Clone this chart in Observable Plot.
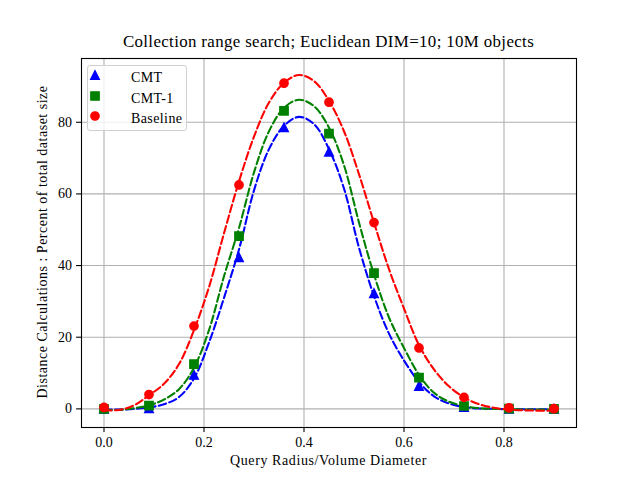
<!DOCTYPE html>
<html>
<head>
<meta charset="utf-8">
<script src="https://cdn.jsdelivr.net/npm/d3@7"></script>
<script src="https://cdn.jsdelivr.net/npm/@observablehq/plot@0.6"></script>
<style>
  html, body { margin: 0; padding: 0; background: #fff; }
  #wrap { position: relative; width: 640px; height: 480px; font-family: "Liberation Serif", "DejaVu Serif", serif; color: #000; }
  #wrap svg { position: absolute; left: 0; top: 0; }
  .title { position: absolute; left: 81px; width: 495px; top: 32px; text-align: center; font-size: 16.9px; line-height: 20px; letter-spacing: 0.35px; }
  .xlabel { position: absolute; left: 81px; width: 495px; top: 452px; text-align: center; font-size: 14px; line-height: 18px; letter-spacing: 0.6px; }
  .ylabel { position: absolute; left: 43px; top: 242px; width: 400px; margin-left: -200px; margin-top: -9px; text-align: center; font-size: 14px; line-height: 18px; letter-spacing: 0.5px; transform: rotate(-90deg); }
  .legend { position: absolute; left: 87px; top: 65px; width: 100px; height: 66px; box-sizing: border-box; border: 1px solid #d0d0d0; border-radius: 3px; background: rgba(255,255,255,0.8); }
  .legend .row { position: absolute; left: 0; height: 20px; width: 100%; font-size: 14px; line-height: 20px; letter-spacing: 0.4px; }
  .legend .row svg { position: absolute; left: 12px; top: 3px; }
  .legend .row span { position: absolute; left: 43px; top: 0; }
</style>
</head>
<body>
<div id="wrap"></div>
<script>
// Measured points (x = query radius / volume diameter)
const xValues = [0.0, 0.09, 0.18, 0.27, 0.36, 0.45, 0.54, 0.63, 0.72, 0.81, 0.9];
const cmt      = [0.0, 0.2, 9.5, 42.3, 78.6, 71.8, 32.3, 6.4, 0.5, 0.05, 0.0];
const cmt1     = [0.0, 0.9, 12.5, 48.2, 83.2, 76.8, 37.9, 8.7, 0.8, 0.1, 0.0];
const baseline = [0.4, 4.0, 23.1, 62.5, 90.9, 85.6, 52.0, 17.0, 3.2, 0.3, 0.05];

// Dashed fitted curves
const curveX      = [0, 0.03, 0.06, 0.09, 0.12, 0.15, 0.18, 0.21, 0.24, 0.27, 0.30, 0.33, 0.36, 0.39, 0.42, 0.45, 0.48, 0.51, 0.54, 0.57, 0.60, 0.63, 0.66, 0.69, 0.72, 0.75, 0.78, 0.81, 0.84, 0.87, 0.9];
const cmtFit      = [-0.2, -0.2, 0.0, 0.4, 1.3, 3.3, 8.5, 18.5, 31, 44.5, 61, 72.5, 79, 81.5, 79.5, 72.5, 61.5, 45, 31.5, 21, 13.5, 7.5, 3.5, 1.5, 0.5, 0.1, 0, -0.1, -0.1, -0.1, -0.1];
const cmt1Fit     = [-0.3, -0.3, 0.2, 1.0, 2.6, 5.5, 11.5, 22, 37, 50.5, 66, 77.5, 84, 86.3, 84.5, 78.5, 68, 52, 37.5, 25.5, 17, 9.5, 4.5, 2.0, 0.8, 0.2, 0, -0.1, -0.2, -0.2, -0.2];
const baselineFit = [-0.4, -0.3, 1.0, 3.8, 7.0, 12.5, 22, 34, 49, 63.5, 76, 85.5, 91, 93.2, 91.5, 86, 77.5, 65.5, 52, 39, 28, 17.8, 11, 6.3, 3.2, 1.3, 0.3, -0.2, -0.4, -0.5, -0.5];

const seriesNames = ["CMT", "CMT-1", "Baseline"];
const seriesColors = ["#0000ff", "#008000", "#ff0000"];

// matplotlib-like marker shapes
const triUp = { draw(ctx, size) { const h = Math.sqrt(size / Math.PI); ctx.moveTo(0, -h); ctx.lineTo(h, h); ctx.lineTo(-h, h); ctx.closePath(); } };
const squareSym = { draw(ctx, size) { const h = Math.sqrt(size / Math.PI); ctx.rect(-h, -h, 2 * h, 2 * h); } };
const circleSym = { draw(ctx, size) { const h = Math.sqrt(size / Math.PI); ctx.moveTo(h, 0); ctx.arc(0, 0, h, 0, 2 * Math.PI); } };
const seriesSymbols = [triUp, squareSym, circleSym];

const pointSets = [cmt, cmt1, baseline];
const fitSets = [cmtFit, cmt1Fit, baselineFit];

const marks = [
  Plot.gridX([0, 0.2, 0.4, 0.6, 0.8], { stroke: "#b0b0b0", strokeOpacity: 1, strokeWidth: 1.1 }),
  Plot.gridY([0, 20, 40, 60, 80], { stroke: "#b0b0b0", strokeOpacity: 1, strokeWidth: 1.1 }),
];
pointSets.forEach((vals, i) => {
  const fit = curveX.map((x, j) => ({ x, y: fitSets[i][j] }));
  const pts = xValues.map((x, j) => ({ x, y: vals[j] }));
  marks.push(Plot.line(fit, { x: "x", y: "y", stroke: seriesColors[i], strokeWidth: 2.08, strokeDasharray: "7.7,3.3", curve: "catmull-rom" }));
  marks.push(Plot.dot(pts, { x: "x", y: "y", symbol: () => seriesSymbols[i], r: i === 0 ? 4.3 : 4.17, fill: seriesColors[i], stroke: seriesColors[i], strokeWidth: 1.39 }));
});
marks.push(Plot.axisX({ ticks: [0, 0.2, 0.4, 0.6, 0.8], tickFormat: d3.format(".1f"), tickSize: 4.9, tickPadding: 5, label: null, fontSize: 14, strokeWidth: 1.1 }));
marks.push(Plot.axisY({ ticks: [0, 20, 40, 60, 80], tickSize: 4.9, tickPadding: 4.5, label: null, fontSize: 14, strokeWidth: 1.1 }));
marks.push(Plot.frame({ stroke: "#000", strokeWidth: 1.1 }));

const chart = Plot.plot({
  width: 640,
  height: 480,
  marginLeft: 81,
  marginRight: 64,
  marginTop: 58,
  marginBottom: 53,
  x: { domain: [-0.045, 0.945] },
  y: { domain: [-5.2, 97.8] },
  symbol: { type: "identity" },
  style: { fontFamily: "'Liberation Serif', 'DejaVu Serif', serif", fontSize: "14px", background: "#fff", overflow: "visible" },
  marks
});

const wrap = document.getElementById("wrap");
wrap.appendChild(chart);

const title = document.createElement("div");
title.className = "title";
title.textContent = "Collection range search; Euclidean DIM=10; 10M objects";
wrap.appendChild(title);

const xl = document.createElement("div");
xl.className = "xlabel";
xl.textContent = "Query Radius/Volume Diameter";
wrap.appendChild(xl);

const yl = document.createElement("div");
yl.className = "ylabel";
yl.textContent = "Distance Calculations : Percent of total dataset size";
wrap.appendChild(yl);

// Legend
const legend = document.createElement("div");
legend.className = "legend";
seriesNames.forEach((name, i) => {
  const row = document.createElement("div");
  row.className = "row";
  row.style.top = (2 + i * 20.5) + "px";
  const s = d3.create("svg").attr("width", 14).attr("height", 14);
  s.append("path")
    .attr("transform", "translate(7,7)")
    .attr("d", d3.symbol(seriesSymbols[i], Math.PI * (i === 0 ? 4.3 : 4.17) ** 2)())
    .attr("fill", seriesColors[i]).attr("stroke", seriesColors[i]).attr("stroke-width", 1.39);
  row.appendChild(s.node());
  const t = document.createElement("span");
  t.textContent = name;
  row.appendChild(t);
  legend.appendChild(row);
});
wrap.appendChild(legend);
</script>
</body>
</html>
